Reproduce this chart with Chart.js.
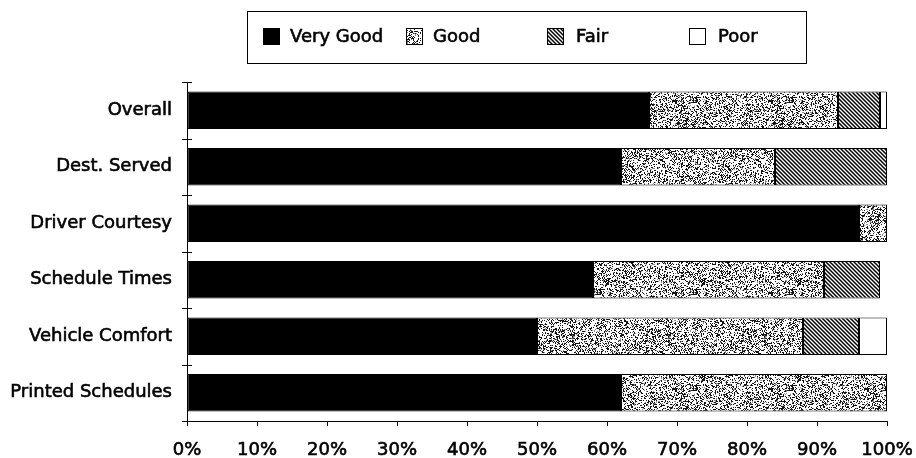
<!DOCTYPE html>
<html>
<head>
<meta charset="utf-8">
<script src="https://cdn.jsdelivr.net/npm/chart.js@4/dist/chart.umd.min.js"></script>
<style>
  html, body { margin: 0; padding: 0; background: #fff; }
  #wrap { width: 916px; height: 458px; position: relative; }
</style>
</head>
<body>
<div id="wrap"><canvas id="c" width="916" height="458"></canvas></div>
<script>
// Survey ratings, percent of respondents per aspect of service
const categories = ['Overall', 'Dest. Served', 'Driver Courtesy', 'Schedule Times', 'Vehicle Comfort', 'Printed Schedules'];
const seriesNames = ['Very Good', 'Good', 'Fair', 'Poor'];
const veryGood = [66, 62, 96, 58, 50, 62];
const good     = [27, 22, 4, 33, 38, 38];
const fair     = [6, 16, 0, 8, 8, 0];
const poor     = [1, 0, 0, 0, 4, 0];
const xTicks   = [0, 10, 20, 30, 40, 50, 60, 70, 80, 90, 100];

const FONT = "'DejaVu Sans', sans-serif";
const STROKE = 0.6;

// Stipple texture for "Good": deterministic hashed speckle
function stipplePattern() {
  const size = 96;
  const cv = document.createElement('canvas');
  cv.width = size; cv.height = size;
  const g = cv.getContext('2d');
  const img = g.createImageData(size, size);
  function hash(x, y) {
    let h = (x * 374761393 + y * 668265263) | 0;
    h = (h ^ (h >>> 13)) * 1274126177 | 0;
    h = h ^ (h >>> 16);
    return (h >>> 0) / 4294967295;
  }
  for (let y = 0; y < size; y++) {
    for (let x = 0; x < size; x++) {
      const v = hash(x, y);
      const n = hash(x >> 1, (y >> 1) + 977);
      let c = 255;
      if (v < 0.22 + 0.18 * n) c = 20;
      else if (v < 0.32 + 0.12 * n) c = 140;
      const i = (y * size + x) * 4;
      img.data[i] = img.data[i + 1] = img.data[i + 2] = c;
      img.data[i + 3] = 255;
    }
  }
  g.putImageData(img, 0, 0);
  return g.createPattern(cv, 'repeat');
}

// Diagonal hatch for "Fair"
function hatchPattern() {
  const s = 4;
  const cv = document.createElement('canvas');
  cv.width = s; cv.height = s;
  const g = cv.getContext('2d');
  g.fillStyle = '#fff';
  g.fillRect(0, 0, s, s);
  g.strokeStyle = '#000';
  g.lineWidth = 1.5;
  for (const off of [-s, 0, s]) {
    g.beginPath();
    g.moveTo(off - 1, -1);
    g.lineTo(off + s + 1, s + 1);
    g.stroke();
  }
  return g.createPattern(cv, 'repeat');
}

const fills = ['#000000', stipplePattern(), hatchPattern(), '#ffffff'];
const values = [veryGood, good, fair, poor];

// Boxed legend across the top and crossing ticks on the category axis
const decorations = {
  id: 'decorations',
  afterDraw(chart) {
    const ctx = chart.ctx;
    ctx.save();
    // legend frame
    ctx.strokeStyle = '#000';
    ctx.lineWidth = 1;
    ctx.strokeRect(247.5, 11.5, 559, 52);
    const swatchX = [263, 406, 547, 689];
    const textX = [290, 433, 576, 718];
    ctx.font = '18px ' + FONT;
    ctx.textBaseline = 'middle';
    chart.data.datasets.forEach((ds, i) => {
      ctx.fillStyle = ds.backgroundColor;
      ctx.fillRect(swatchX[i], 28, 17, 17);
      ctx.strokeStyle = '#000';
      ctx.lineWidth = 1;
      ctx.strokeRect(swatchX[i] + 0.5, 28.5, 16, 16);
      ctx.fillStyle = '#000';
      ctx.lineWidth = STROKE;
      ctx.strokeText(ds.label, textX[i], 37);
      ctx.fillText(ds.label, textX[i], 37);
    });
    // category boundary ticks crossing the y axis
    const a = chart.chartArea;
    const n = chart.data.labels.length;
    const x0 = chart.scales.y.right;
    ctx.strokeStyle = '#000';
    ctx.lineWidth = 1;
    for (let i = 0; i <= n; i++) {
      const y = Math.round(a.top + i * (a.bottom - a.top) / n) + 0.5;
      ctx.beginPath();
      ctx.moveTo(x0 - 5, y);
      ctx.lineTo(x0 + 5, y);
      ctx.stroke();
    }
    ctx.restore();
  }
};

new Chart(document.getElementById('c'), {
  type: 'bar',
  data: {
    labels: categories,
    datasets: seriesNames.map((name, i) => ({
      label: name,
      data: values[i],
      backgroundColor: fills[i],
      borderColor: '#000',
      borderWidth: 1,
      borderSkipped: false,
      categoryPercentage: 1.0,
      barPercentage: 0.66
    }))
  },
  options: {
    indexAxis: 'y',
    responsive: false,
    animation: false,
    devicePixelRatio: 1,
    layout: { padding: { top: 82, right: 29, bottom: 0, left: 0 } },
    plugins: {
      legend: { display: false },
      tooltip: { enabled: false }
    },
    scales: {
      x: {
        stacked: true,
        min: 0,
        max: 100,
        afterBuildTicks(scale) { scale.ticks = xTicks.map(v => ({ value: v })); },
        afterFit(scale) {
          scale.height = 37;
          scale.paddingLeft = 0;
          scale.paddingRight = 0;
        },
        ticks: {
          color: '#000',
          font: { family: FONT, size: 18 },
          textStrokeColor: '#000',
          textStrokeWidth: STROKE,
          padding: 14,
          maxRotation: 0,
          callback: v => v + '%'
        },
        grid: { drawOnChartArea: false, drawTicks: true, tickLength: 5, color: '#000' },
        border: { display: true, color: '#000', width: 1 }
      },
      y: {
        stacked: true,
        afterFit(scale) {
          scale.width = 187;
          scale.paddingTop = 0;
          scale.paddingBottom = 0;
        },
        ticks: {
          color: '#000',
          font: { family: FONT, size: 18 },
          textStrokeColor: '#000',
          textStrokeWidth: STROKE,
          padding: 15
        },
        grid: { drawOnChartArea: false, drawTicks: false, offset: true },
        border: { display: true, color: '#000', width: 1 }
      }
    }
  },
  plugins: [decorations]
});
</script>
</body>
</html>
